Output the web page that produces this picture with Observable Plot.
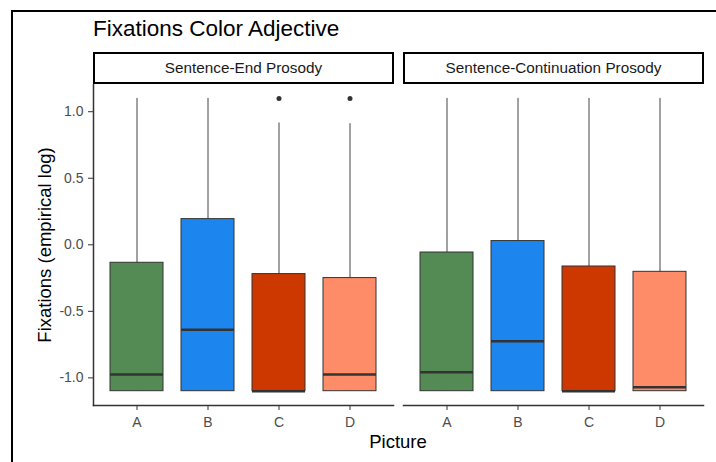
<!DOCTYPE html>
<html><head><meta charset="utf-8">
<script src="https://cdn.jsdelivr.net/npm/d3@7"></script>
<script src="https://cdn.jsdelivr.net/npm/@observablehq/plot@0.6"></script>
<style>
body{margin:0;background:#fff;font-family:"Liberation Sans",Arial,sans-serif}
#wrap{position:relative;width:716px;height:462px;overflow:hidden;background:#fff}
#wrap svg{position:absolute;left:0;top:0}
.frameL{position:absolute;left:11px;top:10px;width:2px;height:452px;background:#000}
.frameT{position:absolute;left:11px;top:10px;width:705px;height:2px;background:#000}
.title{position:absolute;left:93px;top:17px;font-size:22.5px;color:#000;white-space:nowrap;line-height:24px}
.strip{position:absolute;box-sizing:border-box;border:2px solid #000;background:#fff;color:#1a1a1a;font-size:15.3px;display:flex;align-items:center;justify-content:center;white-space:nowrap}
.xlab{position:absolute;top:432px;font-size:18.5px;color:#000;transform:translateX(-50%);white-space:nowrap;line-height:20px}
.ylab{position:absolute;left:45px;top:245px;font-size:18.5px;color:#000;transform:translate(-50%,-50%) rotate(-90deg);white-space:nowrap;line-height:20px}
</style></head><body><div id="wrap"></div>
<script>
const panels = ["Sentence-End Prosody", "Sentence-Continuation Prosody"];
const pictures = ["A", "B", "C", "D"];
const colors = ["#548B54", "#1C86EE", "#CD3700", "#FF8C69"];
// per panel, per picture
const lower = [[-1.1, -1.1, -1.1, -1.1], [-1.1, -1.1, -1.1, -1.1]];
const q1 = [[-1.1, -1.1, -1.1, -1.1], [-1.1, -1.1, -1.1, -1.1]];
const medians = [[-0.975, -0.638, -1.1, -0.975], [-0.958, -0.725, -1.1, -1.07]];
const q3 = [[-0.135, 0.193, -0.22, -0.25], [-0.058, 0.028, -0.163, -0.203]];
const upper = [[1.1, 1.1, 0.915, 0.91], [1.1, 1.1, 1.1, 1.1]];
const outlierPanel = [0, 0];
const outlierPicture = ["C", "D"];
const outlierValue = [1.1, 1.1];
const yTicks = [-1, -0.5, 0, 0.5, 1];
const title = "Fixations Color Adjective";
const xTitle = "Picture";
const yTitle = "Fixations (empirical log)";

const rows = [];
panels.forEach((p, i) => pictures.forEach((c, j) => rows.push({
  panel: p, picture: c, lo: lower[i][j], q1: q1[i][j], med: medians[i][j], q3: q3[i][j], hi: upper[i][j]
})));
const outs = outlierValue.map((v, k) => ({panel: panels[outlierPanel[k]], picture: outlierPicture[k], value: v}));

const chart = Plot.plot({
  width: 716, height: 462,
  marginLeft: 93, marginRight: 13, marginTop: 84, marginBottom: 57,
  style: {fontFamily: '"Liberation Sans", Arial, sans-serif', fontSize: "14px", background: "transparent", overflow: "visible"},
  fx: {domain: panels, padding: 10 / 310, axis: null, label: null},
  x: {domain: pictures, paddingInner: 0.25, paddingOuter: 0.225, label: null},
  y: {domain: [-1.2075, 1.2045], label: null},
  color: {domain: pictures, range: colors},
  marks: [
    Plot.frame({anchor: "bottom", stroke: "#333", strokeWidth: 1.5}),
    Plot.frame({anchor: "left", stroke: "#333", strokeWidth: 1.5, facetAnchor: "left"}),
    Plot.axisY(yTicks, {tickFormat: d => d.toFixed(1), tickSize: 5, tickPadding: 5, stroke: "#333", fill: "#4d4d4d", label: null, fontSize: 14}),
    Plot.axisX({tickSize: 5, tickPadding: 7, stroke: "#333", fill: "#4d4d4d", label: null, fontSize: 14}),
    Plot.ruleX(rows, {x: "picture", fx: "panel", y1: "lo", y2: "hi", stroke: "#444", strokeWidth: 1}),
    Plot.barY(rows, {x: "picture", fx: "panel", y1: "q1", y2: "q3", fill: "picture", stroke: "#333", strokeWidth: 1}),
    Plot.tickY(rows, {x: "picture", fx: "panel", y: "med", stroke: "#333", strokeWidth: 2.5}),
    Plot.dot(outs, {x: "picture", fx: "panel", y: "value", r: 2.5, fill: "#333", stroke: null})
  ]
});

const wrap = document.getElementById("wrap");
wrap.appendChild(chart);
const add = (cls, text, css) => {
  const d = document.createElement("div");
  d.className = cls;
  if (text != null) d.textContent = text;
  Object.assign(d.style, css || {});
  wrap.appendChild(d);
  return d;
};
add("frameL"); add("frameT");
add("title", title);
const fx = chart.scale("fx");
panels.forEach(p => {
  const left = fx.apply(p);
  add("strip", p, {left: left + "px", top: "52px", width: (fx.bandwidth + 1) + "px", height: "32px"});
});
const xCenter = (fx.apply(panels[0]) + fx.apply(panels[1]) + fx.bandwidth) / 2;
add("xlab", xTitle, {left: xCenter + "px"});
add("ylab", yTitle);
</script>
</body></html>
